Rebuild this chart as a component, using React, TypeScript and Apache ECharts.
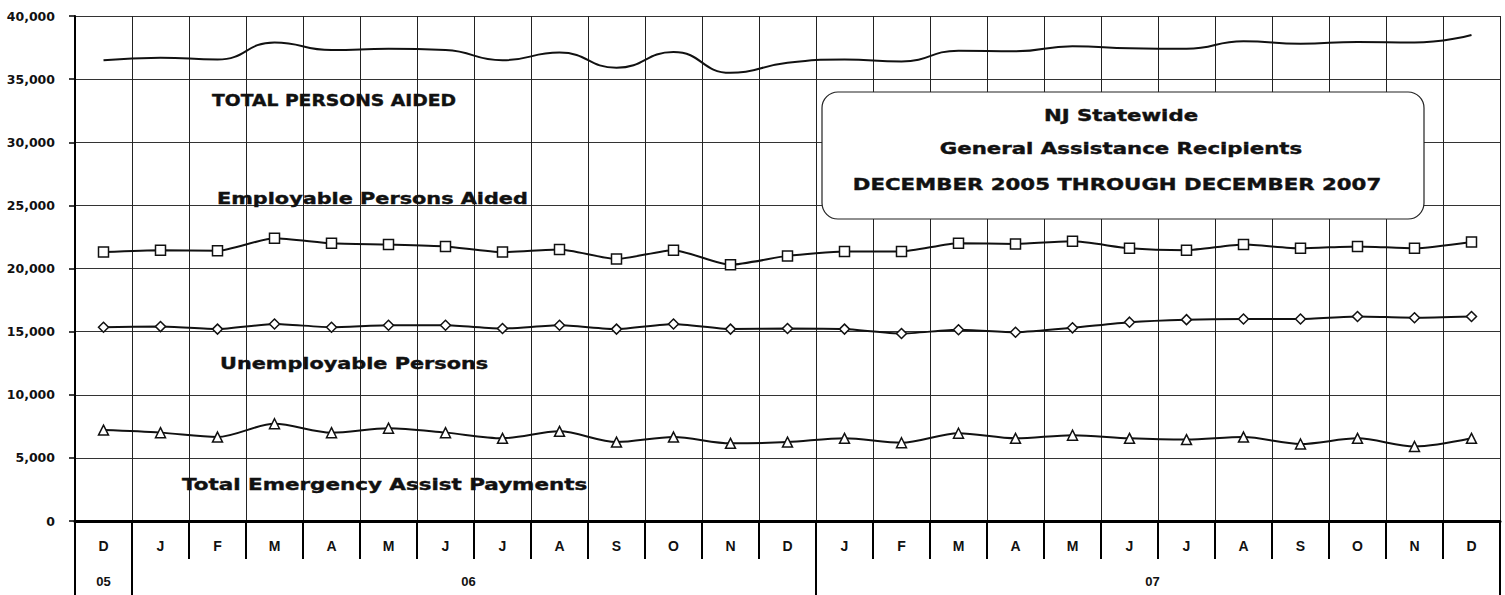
import React, { useEffect, useRef } from "react";
import * as echarts from "echarts";

const months = ["D", "J", "F", "M", "A", "M", "J", "J", "A", "S", "O", "N", "D", "J", "F", "M", "A", "M", "J", "J", "A", "S", "O", "N", "D"];
const years = ["05", "06", "06", "06", "06", "06", "06", "06", "06", "06", "06", "06", "06", "07", "07", "07", "07", "07", "07", "07", "07", "07", "07", "07", "07"];

const totalPersons = [36500, 36700, 36550, 37900, 37300, 37400, 37300, 36500, 37100, 35900, 37150, 35500, 36300, 36550, 36400, 37250, 37200, 37600, 37450, 37400, 38000, 37800, 37950, 37900, 38500];
const employable = [21300, 21450, 21400, 22400, 22000, 21900, 21750, 21300, 21500, 20750, 21450, 20300, 21000, 21350, 21350, 22000, 21950, 22150, 21600, 21450, 21900, 21600, 21750, 21600, 22100];
const unemployable = [15350, 15400, 15200, 15600, 15350, 15500, 15500, 15250, 15500, 15200, 15600, 15200, 15250, 15200, 14850, 15150, 14950, 15300, 15750, 15950, 16000, 16000, 16200, 16100, 16200];
const emergency = [7200, 7000, 6650, 7700, 7000, 7350, 7000, 6550, 7100, 6250, 6650, 6150, 6250, 6550, 6200, 6950, 6550, 6800, 6550, 6450, 6650, 6100, 6550, 5900, 6550];

const titleLines = ["NJ Statewide", "General Assistance Recipients", "DECEMBER 2005 THROUGH DECEMBER 2007"];

const FONT = '"DejaVu Sans", "Liberation Sans", sans-serif';
const AXFONT = '"Liberation Sans", Arial, sans-serif';

function label(text: string, x: number, y: number, scaleX: number, align = "left") {
  return {
    type: "text",
    x,
    y,
    scaleX,
    z: 20,
    style: {
      text,
      fontSize: 16,
      fontWeight: "bold",
      fontFamily: FONT,
      fill: "#111",
      stroke: "#111",
      lineWidth: 0.4,
      textAlign: align,
      align,
      textVerticalAlign: "middle",
      verticalAlign: "middle",
    },
  };
}

export default function App() {
  const ref = useRef<HTMLDivElement>(null);
  useEffect(() => {
    if (!ref.current) return;
    const chart = echarts.init(ref.current, undefined, { renderer: "svg" });
    const lineStyle = { color: "#111", width: 2 };
    const itemStyle = { color: "#fff", borderColor: "#111", borderWidth: 1.5 };
    chart.setOption({
      animation: false,
      backgroundColor: "#fff",
      grid: { left: 75, right: 5, top: 16, bottom: 74, containLabel: false },
      xAxis: [
        {
          type: "category",
          data: months,
          boundaryGap: true,
          axisLine: { show: true, onZero: false, lineStyle: { color: "#000", width: 3 } },
          axisTick: { show: true, length: 38, interval: 0, lineStyle: { color: "#000", width: 2 } },
          axisLabel: {
            interval: 0,
            margin: 18,
            fontSize: 14,
            fontFamily: AXFONT,
            fontWeight: "bold",
            color: "#111",
          },
          splitLine: { show: true, interval: 0, lineStyle: { color: "#222", width: 1 } },
        },
        {
          type: "category",
          data: years,
          position: "bottom",
          offset: 38,
          boundaryGap: true,
          axisLine: { show: true, onZero: false, lineStyle: { color: "rgba(0,0,0,0)", width: 0 } },
          axisTick: {
            show: true,
            length: 40,
            interval: (i: number) => i === 0 || i === 1 || i === 13,
            lineStyle: { color: "#000", width: 2 },
          },
          axisLabel: {
            interval: (i: number) => i === 0 || i === 6 || i === 18,
            margin: 16,
            fontSize: 13,
            fontFamily: AXFONT,
            fontWeight: "bold",
            color: "#111",
            formatter: (v: string, i: number) => (i === 0 ? "{a|" + v + "}" : "{b|" + v + "}"),
            rich: {
              a: { fontSize: 13, fontWeight: "bold", color: "#111", fontFamily: AXFONT },
              b: { fontSize: 13, fontWeight: "bold", color: "#111", fontFamily: AXFONT, padding: [0, 0, 0, 46] },
            },
          },
          splitLine: { show: false },
        },
      ],
      yAxis: {
        type: "value",
        min: 0,
        max: 40000,
        interval: 5000,
        axisLine: { show: true, lineStyle: { color: "#000", width: 2 } },
        axisTick: { show: true, length: 6, lineStyle: { color: "#000", width: 1.5 } },
        axisLabel: {
          margin: 20,
          fontSize: 12.5,
          fontWeight: "bold",
          fontFamily: FONT,
          color: "#111",
          formatter: (v: number) => v.toLocaleString("en-US"),
        },
        splitLine: { show: true, lineStyle: { color: "#333", width: 1 } },
      },
      series: [
        {
          name: "Total Persons Aided",
          type: "line",
          data: totalPersons,
          smooth: 0.5,
          showSymbol: false,
          symbol: "none",
          lineStyle,
          z: 5,
        },
        {
          name: "Employable Persons Aided",
          type: "line",
          data: employable,
          smooth: 0.2,
          symbol: "rect",
          symbolSize: 10,
          lineStyle,
          itemStyle,
          z: 5,
        },
        {
          name: "Unemployable Persons",
          type: "line",
          data: unemployable,
          smooth: 0.2,
          symbol: "diamond",
          symbolSize: 10,
          lineStyle,
          itemStyle,
          z: 5,
        },
        {
          name: "Total Emergency Assist Payments",
          type: "line",
          data: emergency,
          smooth: 0.3,
          symbol: "triangle",
          symbolSize: 10,
          lineStyle,
          itemStyle,
          z: 5,
        },
      ],
      graphic: [
        label("TOTAL PERSONS AIDED", 212, 100, 1.17),
        label("Employable Persons Aided", 217, 198, 1.3),
        label("Unemployable Persons", 220, 363, 1.3),
        label("Total Emergency Assist Payments", 182, 484, 1.34),
        {
          type: "rect",
          z: 15,
          shape: { x: 822, y: 92, width: 602, height: 127, r: 16 },
          style: { fill: "#fff", stroke: "#222", lineWidth: 1.2 },
        },
        label(titleLines[0], 1121, 115, 1.33, "center"),
        label(titleLines[1], 1121, 148, 1.33, "center"),
        label(titleLines[2], 1117, 184, 1.33, "center"),
      ],
    });
    return () => chart.dispose();
  }, []);
  return (
    <div
      ref={ref}
      style={{ position: "fixed", left: 0, top: 0, width: 1505, height: 595, background: "#fff" }}
    />
  );
}
